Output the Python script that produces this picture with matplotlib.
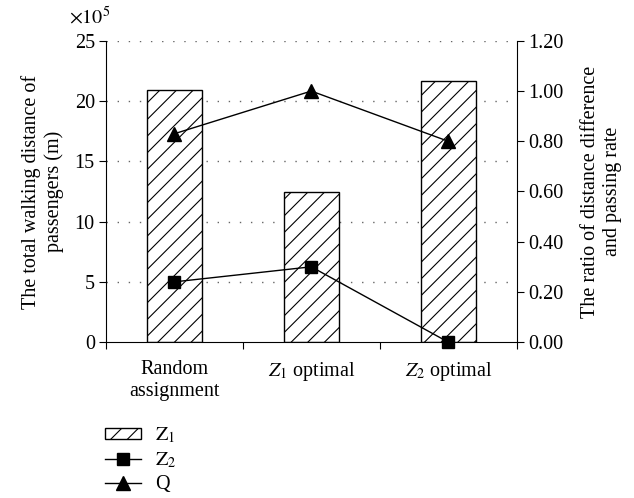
import numpy as np
import matplotlib
matplotlib.use("Agg")
import matplotlib.pyplot as plt

plt.rcParams['font.family'] = ['Liberation Serif', 'DejaVu Serif']
plt.rcParams['mathtext.fontset'] = 'stix'
plt.rcParams['hatch.linewidth'] = 0.8

categories = ["Random\nassignment", "$Z_1$ optimal", "$Z_2$ optimal"]
z1_values = [20.9, 12.45, 21.7]      # x10^5 m
z2_values = [0.24, 0.30, 0.00]
q_values = [0.83, 1.00, 0.80]

fs = 14.5
fig = plt.figure(figsize=(6.34, 4.98), dpi=100)
ax = fig.add_axes([0.167, 0.313, 0.648, 0.605])
x = np.arange(len(categories))

bars = ax.bar(x, z1_values, width=0.4, color='white', edgecolor='black',
              hatch='//', linewidth=1.0, label=r'$\mathrm{Z}_1$', zorder=2)
ax.set_xlim(-0.5, 2.5)
ax.set_ylim(0, 25)
ax.set_yticks([0, 5, 10, 15, 20, 25])
ax.tick_params(axis='y', labelsize=fs, direction='out', length=5, pad=3)
for yv in [5, 10, 15, 20, 25]:
    ax.axhline(yv, color='#666666', linestyle=(0, (1, 7)), linewidth=1.0, zorder=1)

ax.set_xticks([-0.5, 0.5, 1.5, 2.5])
ax.set_xticklabels([])
ax.set_xticks(x, minor=True)
ax.set_xticklabels(categories, minor=True, fontsize=fs, linespacing=1.2)
ax.tick_params(axis='x', which='major', direction='out', length=5)
ax.tick_params(axis='x', which='minor', length=0, pad=13)
ax.spines['top'].set_visible(False)
ax.spines['right'].set_visible(False)
ax.set_ylabel("The total walking distance of\npassengers (m)", fontsize=fs,
              linespacing=1.2, labelpad=8)
ax.text(-0.09, 1.04, r"$\times10^5$", transform=ax.transAxes, fontsize=fs,
        ha='left', va='bottom')

ax2 = ax.twinx()
ax2.set_ylim(0, 1.2)
ax2.set_yticks(np.arange(0, 1.21, 0.2))
ax2.set_yticklabels([f"{v:.2f}" for v in np.arange(0, 1.21, 0.2)])
ax2.tick_params(axis='y', labelsize=fs, direction='out', length=5, pad=3)
ax2.spines['top'].set_visible(False)
ax2.spines['left'].set_visible(False)
ax2.spines['bottom'].set_visible(False)
ln2, = ax2.plot(x, z2_values, color='black', linewidth=1.0, marker='s',
                markersize=9, label=r'$\mathrm{Z}_2$', clip_on=False, zorder=3)
ln3, = ax2.plot(x, q_values, color='black', linewidth=1.0, marker='^',
                markersize=10, label='Q', clip_on=False, zorder=3)
ax2.set_ylabel("The ratio of distance difference\nand passing rate", fontsize=fs,
               linespacing=1.2, labelpad=13)

fig.legend(handles=[bars, ln2, ln3], loc='upper left', bbox_to_anchor=(0.143, 0.173),
           frameon=False, fontsize=fs, handlelength=1.8, handleheight=0.5,
           labelspacing=0.25, handletextpad=0.7, borderpad=0.2)

fig.savefig("out.png", dpi=100)
